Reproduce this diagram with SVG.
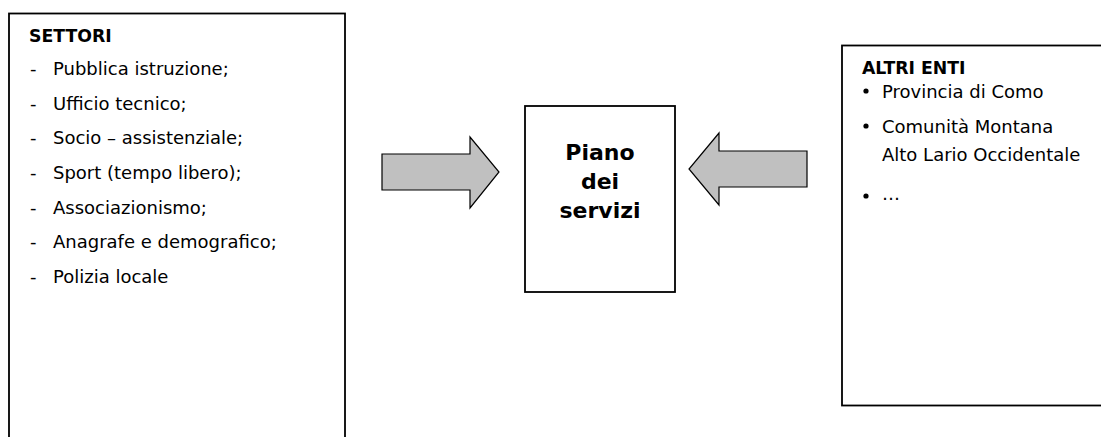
<svg xmlns="http://www.w3.org/2000/svg" width="1101" height="437" viewBox="0 0 1101 437">
<style>
.box{fill:#fff;stroke:#000;stroke-width:1.8}
.arr{fill:#c0c0c0;stroke:#000;stroke-width:1.2;stroke-linejoin:miter}
text{font-family:"DejaVu Sans",Verdana,sans-serif;fill:#000}
.t{font-size:18px}
.h{font-size:17.3px;font-weight:bold}
.c{font-size:22px;font-weight:bold;text-anchor:middle}
</style>
<rect width="1101" height="437" fill="#fff"/>
<g id="settori">
<rect class="box" x="9" y="13.5" width="336" height="440"/>
<text class="h" x="29" y="42">SETTORI</text>
<g class="t">
<text x="30" y="75">-</text><text x="53" y="75">Pubblica istruzione;</text>
<text x="30" y="110">-</text><text x="53" y="110">Ufficio tecnico;</text>
<text x="30" y="144">-</text><text x="53" y="144">Socio – assistenziale;</text>
<text x="30" y="179">-</text><text x="53" y="179">Sport (tempo libero);</text>
<text x="30" y="214">-</text><text x="53" y="214">Associazionismo;</text>
<text x="30" y="248">-</text><text x="53" y="248">Anagrafe e demografico;</text>
<text x="30" y="283">-</text><text x="53" y="283">Polizia locale</text>
</g>
</g>
<g id="piano">
<rect class="box" x="525" y="106" width="150" height="186"/>
<text class="c" x="600" y="160">Piano</text>
<text class="c" x="600" y="189">dei</text>
<text class="c" x="600" y="218">servizi</text>
</g>
<g id="altri-enti">
<rect class="box" x="842" y="45.5" width="280" height="360"/>
<text class="h" x="862" y="74">ALTRI ENTI</text>
<g class="t">
<circle cx="866" cy="91" r="2.6"/><text x="882" y="98">Provincia di Como</text>
<circle cx="866" cy="126" r="2.6"/><text x="882" y="133">Comunità Montana</text>
<text x="882" y="161">Alto Lario Occidentale</text>
<circle cx="866" cy="196" r="2.6"/><text x="882" y="200">…</text>
</g>
</g>
<g id="connectors">
<polygon class="arr" points="382,154 470,154 470,137 499,172 470,208 470,190 382,190"/>
<polygon class="arr" points="807,151 719,151 719,133 689,169 719,205 719,187 807,187"/>
</g>
</svg>
